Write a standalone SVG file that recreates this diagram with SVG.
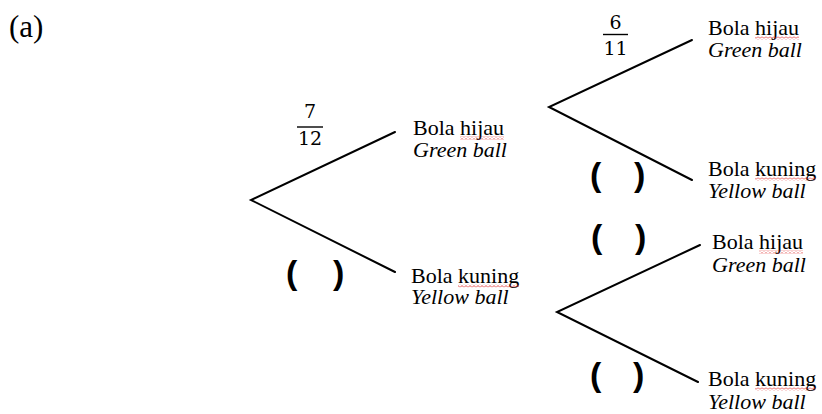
<svg xmlns="http://www.w3.org/2000/svg" width="822" height="414" viewBox="0 0 822 414">
  <style>
    .br { stroke: #000; stroke-width: 2; fill: none; stroke-linecap: round; }
    .lbl { font-family: "Liberation Serif", "Times New Roman", serif; font-size: 22px; fill: #000; }
    .en { font-style: italic; }
    .frac { font-family: "DejaVu Serif", "Liberation Serif", serif; font-size: 19px; fill: #000; text-anchor: middle; }
    .bar { stroke: #000; stroke-width: 1.4; }
    .par { font-family: "Liberation Sans", Arial, sans-serif; font-weight: bold; font-size: 34px; fill: #000; }
    .tag { font-family: "Liberation Serif", "Times New Roman", serif; font-size: 31px; fill: #000; }
  </style>
  <defs>
    <pattern id="wavy" width="4" height="3" patternUnits="userSpaceOnUse">
      <polyline points="0,2.5 2,0.5 4,2.5" fill="none" stroke="#e02020" stroke-width="0.8"/>
    </pattern>
  </defs>

  <text class="tag" x="9" y="37">(a)</text>

  <!-- branch lines -->
  <g id="connectors">
    <polyline class="br" points="395,132 251,200 395,272"/>
    <polyline class="br" points="692,40 549,107 692,180"/>
    <polyline class="br" points="700,245 557,312 698,382"/>
  </g>

  <!-- first draw -->
  <g id="p-green-1">
    <text class="frac" x="310" y="117.5">7</text>
    <line class="bar" x1="297" y1="127" x2="323" y2="127"/>
    <text class="frac" x="310" y="145">12</text>
  </g>
  <g id="p-yellow-1">
    <text class="par" x="286" y="284">(</text>
    <text class="par" x="333" y="284">)</text>
  </g>
  <g id="n-green-1">
    <text class="lbl" x="413" y="135">Bola hijau</text>
    <rect x="460" y="136.5" width="44" height="3" fill="url(#wavy)"/>
    <text class="lbl en" x="413" y="157">Green ball</text>
  </g>
  <g id="n-yellow-1">
    <text class="lbl" x="411" y="283">Bola kuning</text>
    <rect x="458" y="284.5" width="61" height="3" fill="url(#wavy)"/>
    <text class="lbl en" x="411" y="304">Yellow ball</text>
  </g>

  <!-- second draw after green -->
  <g id="p-gg">
    <text class="frac" x="615.5" y="29">6</text>
    <line class="bar" x1="603" y1="34.5" x2="628" y2="34.5"/>
    <text class="frac" x="615.5" y="55">11</text>
  </g>
  <g id="p-gy">
    <text class="par" x="590" y="186">(</text>
    <text class="par" x="634" y="186">)</text>
  </g>
  <g id="n-gg">
    <text class="lbl" x="708" y="35">Bola hijau</text>
    <rect x="755" y="36.5" width="44" height="3" fill="url(#wavy)"/>
    <text class="lbl en" x="708" y="57">Green ball</text>
  </g>
  <g id="n-gy">
    <text class="lbl" x="708" y="176">Bola kuning</text>
    <rect x="755" y="177.5" width="61" height="3" fill="url(#wavy)"/>
    <text class="lbl en" x="708" y="198">Yellow ball</text>
  </g>

  <!-- second draw after yellow -->
  <g id="p-yg">
    <text class="par" x="591" y="248">(</text>
    <text class="par" x="635" y="248">)</text>
  </g>
  <g id="p-yy">
    <text class="par" x="590" y="386">(</text>
    <text class="par" x="633" y="386">)</text>
  </g>
  <g id="n-yg">
    <text class="lbl" x="712" y="249">Bola hijau</text>
    <rect x="759" y="250.5" width="44" height="3" fill="url(#wavy)"/>
    <text class="lbl en" x="712" y="272">Green ball</text>
  </g>
  <g id="n-yy">
    <text class="lbl" x="708" y="386">Bola kuning</text>
    <rect x="755" y="387.5" width="61" height="3" fill="url(#wavy)"/>
    <text class="lbl en" x="708" y="409">Yellow ball</text>
  </g>
</svg>
